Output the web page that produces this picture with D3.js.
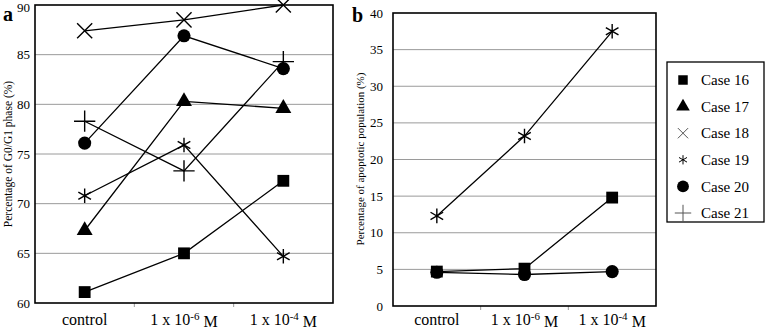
<html>
<head>
<script src="https://d3js.org/d3.v7.min.js"></script>
<style>
  body { margin: 0; background: #fff; }
  .grid line { stroke: #9a9a9a; stroke-width: 1px; }
  .frame { fill: none; stroke: #000; stroke-width: 1.6px; }
  .series { fill: none; stroke: #000; stroke-width: 1.3px; }
</style>
</head>
<body>
<div id="chart"></div>
<script>
// x categories (dose), exponent drawn as superscript
const categories = ["control", "1e-6", "1e-4"];
const catBase = ["control", "1 x 10", "1 x 10"];
const catExp = [null, "-6", "-4"];

const caseNames = ["Case 16", "Case 17", "Case 18", "Case 19", "Case 20", "Case 21"];

// panel a: percentage of G0/G1 phase
const g1Case16 = [61.1, 65.0, 72.3];
const g1Case17 = [67.3, 80.3, 79.6];
const g1Case18 = [87.4, 88.5, 90.0];
const g1Case19 = [70.8, 75.9, 64.7];
const g1Case20 = [76.1, 86.9, 83.6];
const g1Case21 = [78.3, 73.3, 84.3];

// panel b: percentage of apoptotic population
const apoCase16 = [4.7, 5.1, 14.8];
const apoCase19 = [12.3, 23.2, 37.5];
const apoCase20 = [4.6, 4.3, 4.7];

const ticksA = [60, 65, 70, 75, 80, 85, 90];
const ticksB = [0, 5, 10, 15, 20, 25, 30, 35, 40];

const serif = "'Liberation Serif', 'Times New Roman', Times, 'DejaVu Serif', serif";

const shapes = {
  "Case 16": d3.symbolSquare,
  "Case 17": d3.symbolTriangle,
  "Case 18": d3.symbolTimes,
  "Case 19": d3.symbolAsterisk,
  "Case 20": d3.symbolCircle,
  "Case 21": d3.symbolPlus
};
const filled = { "Case 16": true, "Case 17": true, "Case 20": true };
const bigSize = { "Case 16": 140, "Case 17": 110, "Case 18": 150, "Case 19": 150, "Case 20": 135, "Case 21": 150 };

const svg = d3.select("#chart").append("svg")
  .attr("width", 767).attr("height", 329)
  .attr("font-family", serif);

function drawPanel(opt) {
  const x = d3.scaleBand().domain(categories).range([opt.left, opt.right]);
  const y = d3.scaleLinear().domain(opt.domain).range([opt.bottom, opt.top]);
  const g = svg.append("g");

  g.append("g").attr("class", "grid")
    .selectAll("line").data(opt.ticks.slice(1, -1)).enter().append("line")
    .attr("x1", opt.left).attr("x2", opt.right)
    .attr("y1", d => y(d)).attr("y2", d => y(d));

  // small tick marks between categories, below the axis
  g.selectAll(".xtick").data(categories.slice(1)).enter().append("line")
    .attr("x1", d => x(d)).attr("x2", d => x(d))
    .attr("y1", opt.bottom).attr("y2", opt.bottom + 4)
    .attr("stroke", "#9a9a9a");

  g.append("rect").attr("class", "frame")
    .attr("x", opt.left).attr("y", opt.top)
    .attr("width", opt.right - opt.left).attr("height", opt.bottom - opt.top);

  g.selectAll(".ylab").data(opt.ticks).enter().append("text")
    .attr("x", opt.left - opt.tickGap).attr("y", d => Math.max(y(d), 7)).attr("dy", "0.35em")
    .attr("text-anchor", "end").attr("font-family", serif).style("font-size", "13px")
    .text(d => d);

  const xl = g.selectAll(".xlab").data(categories).enter().append("text")
    .attr("x", d => x(d) + x.bandwidth() / 2).attr("y", opt.labelY)
    .attr("text-anchor", "middle").attr("font-family", serif).style("font-size", "16px");
  xl.each(function(d, i) {
    const t = d3.select(this);
    t.append("tspan").text(catBase[i]);
    if (catExp[i]) {
      t.append("tspan").attr("dy", "-0.45em").style("font-size", "11px").text(catExp[i]);
      t.append("tspan").attr("dy", "0.45em").text(" M");
    }
  });

  g.append("text")
    .attr("transform", "translate(" + opt.titleX + "," + opt.titleY + ") rotate(-90)")
    .attr("text-anchor", "middle").attr("font-family", serif).style("font-size", opt.titleSize)
    .text(opt.title);

  g.append("text").attr("x", opt.letterX).attr("y", opt.letterY).attr("font-family", serif)
    .style("font-size", "20px").style("font-weight", "bold").text(opt.letter);

  const line = d3.line().x((d, i) => x(categories[i]) + x.bandwidth() / 2).y(d => y(d));
  opt.series.forEach(s => {
    g.append("path").attr("class", "series").attr("d", line(s.values));
    g.selectAll(null).data(s.values).enter().append("path")
      .attr("transform", (d, i) => "translate(" + (x(categories[i]) + x.bandwidth() / 2) + "," + y(d) + ")")
      .attr("d", d3.symbol().type(shapes[s.name]).size(bigSize[s.name]))
      .attr("fill", filled[s.name] ? "#000" : "none")
      .attr("stroke", "#000").attr("stroke-width", filled[s.name] ? 0 : 1.4);
  });
}

drawPanel({
  left: 35, right: 333, top: 5, bottom: 303, domain: [60, 90], ticks: ticksA, tickGap: 5,
  labelY: 325, titleX: 12, titleY: 154, titleSize: "11.5px", title: "Percentage of G0/G1 phase (%)",
  letter: "a", letterX: 3, letterY: 21,
  series: [
    { name: "Case 16", values: g1Case16 },
    { name: "Case 17", values: g1Case17 },
    { name: "Case 18", values: g1Case18 },
    { name: "Case 19", values: g1Case19 },
    { name: "Case 20", values: g1Case20 },
    { name: "Case 21", values: g1Case21 }
  ]
});

drawPanel({
  left: 393, right: 656, top: 13, bottom: 306, domain: [0, 40], ticks: ticksB, tickGap: 10,
  labelY: 325, titleX: 364, titleY: 159, titleSize: "11px", title: "Percentage of apoptotic population (%)",
  letter: "b", letterX: 352, letterY: 22,
  series: [
    { name: "Case 16", values: apoCase16 },
    { name: "Case 20", values: apoCase20 },
    { name: "Case 19", values: apoCase19 }
  ]
});

// legend
const legend = svg.append("g");
legend.append("rect").attr("x", 667).attr("y", 62).attr("width", 97).attr("height", 160)
  .attr("fill", "#fff").attr("stroke", "#000").attr("stroke-width", 1.3);
const legSize = { "Case 16": 90, "Case 17": 80, "Case 18": 70, "Case 19": 60, "Case 20": 110, "Case 21": 90 };
caseNames.forEach((n, i) => {
  const cy = 80 + i * 26.6;
  legend.append("path")
    .attr("transform", "translate(683," + cy + ")")
    .attr("d", d3.symbol().type(shapes[n]).size(legSize[n]))
    .attr("fill", filled[n] ? "#000" : "none")
    .attr("stroke", n === "Case 19" ? "#000" : "#555").attr("stroke-width", filled[n] ? 0 : 1);
  legend.append("text").attr("x", 701).attr("y", cy).attr("dy", "0.35em")
    .attr("font-family", serif).style("font-size", "15px").text(n);
});
</script>
</body>
</html>
